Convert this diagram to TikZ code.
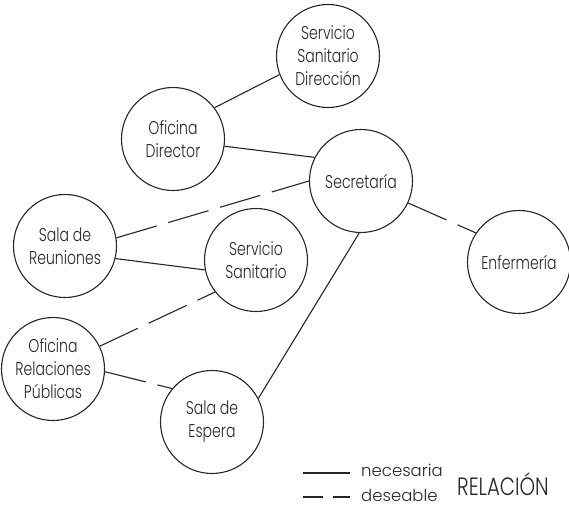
\documentclass[tikz,border=0pt]{standalone}
\usepackage{fontspec}
\setmainfont{Poppins Light}[FakeStretch=0.76]
\newfontfamily\legfont{Poppins Light}[FakeStretch=1.0]
\newfontfamily\relfont{Poppins Light}[FakeStretch=0.79]
\begin{document}
\begin{tikzpicture}[x=1pt,y=-1pt,
  room/.style={circle,draw=black!85,line width=1.1pt,minimum size=103pt,inner sep=0pt,
    align=center,font=\fontsize{18.5}{23}\selectfont,text=black!85},
  rel/.style={draw=black!85,line width=1.1pt},
  wish/.style={rel,dash pattern=on 42pt off 12pt},
  legtext/.style={inner sep=0pt,anchor=base west,font=\legfont\fontsize{16.5}{18}\selectfont,text=black!85}]
\useasboundingbox (0,0) rectangle (569,506);
\node[room] (ssd) at (328,56) {Servicio\\Sanitario\\Dirección};
\node[room] (od) at (173,139) {Oficina\\Director};
\node[room] (sec) at (361,181) {Secretaría};
\node[room] (sr) at (65,246) {Sala de\\Reuniones};
\node[room] (ss) at (256,260) {Servicio\\Sanitario};
\node[room] (enf) at (519,262) {Enfermería};
\node[room] (orp) at (53,369) {Oficina\\Relaciones\\Públicas};
\node[room] (se) at (212,422) {Sala de\\Espera};
\draw[rel] (od.37) -- (ssd.-159);
\draw[rel] (od.-8) -- (sec.153);
\draw[wish] (sr.9) -- (sec.180);
\draw[rel] (sr.-14) -- (ss.191);
\draw[wish] (sec.-25) -- (enf.146);
\draw[rel] (sec.-92) -- (se.27);
\draw[wish] (orp.26) -- (ss.218);
\draw[wish] (orp.-3) -- (se.140);
\coordinate (l1a) at (303,473);
\coordinate (l1b) at (350,473);
\coordinate (l2a) at (303,497);
\coordinate (l2b) at (350,497);
\draw[rel] (l1a) -- (l1b);
\draw[rel,dash pattern=on 20pt off 10pt] (l2a) -- (l2b);
\node[legtext] (nec) at (361,476) {necesaria};
\node[legtext] (des) at (361,501) {deseable};
\node[legtext,font=\relfont\fontsize{25}{28}\selectfont] (relac) at (457,495) {RELACIÓN};
\end{tikzpicture}
\end{document}
